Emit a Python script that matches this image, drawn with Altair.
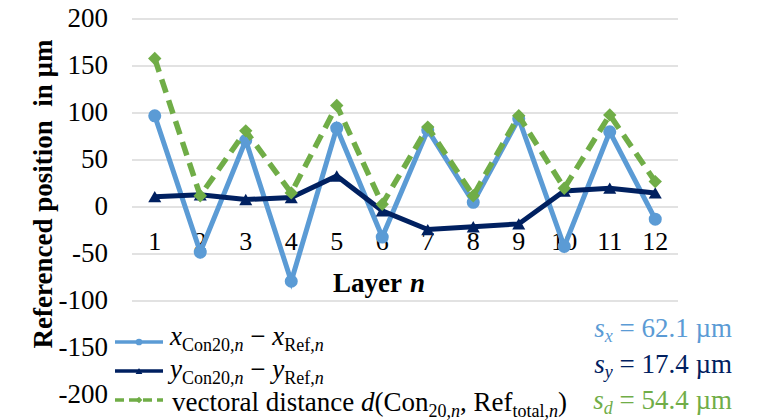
import altair as alt
import pandas as pd

# ---------------- data ----------------
layer_n = list(range(1, 13))
x_diff = [97, -48, 71, -79, 84, -32, 82, 5, 94, -42, 80, -13]
y_diff = [11, 13, 8, 10, 33, -4, -24, -21, -18, 17, 20, 15]
d_dist = [158, 12, 81, 15, 108, 3, 85, 12, 97, 20, 98, 27]
y_ticks = [-200, -150, -100, -50, 0, 50, 100, 150, 200]
grid_vals = [-100, -50, 0, 50, 100, 150, 200]
s_x, s_y, s_d = "62.1", "17.4", "54.4"

BLUE = "#5B9BD5"
NAVY = "#002060"
GREEN = "#70AD47"
SERIF = "Liberation Serif"

W, H = 546, 376
LEFT, TOP = 132, 19

df = pd.DataFrame({"n": layer_n, "x": x_diff, "y": y_diff, "d": d_dist})
xs = alt.Scale(domain=[0.5, 12.5])
ys = alt.Scale(domain=[-200, 200])

# ---------------- text metrics (Times metrics) ----------------
REG = {' ': 250, '(': 333, ')': 333, ',': 250, '.': 250, '-': 333, '=': 564, '\u2212': 564,
       'C': 667, 'R': 667, 'L': 611, 'a': 444, 'c': 444, 'd': 500, 'e': 444, 'f': 333,
       'i': 278, 'l': 278, 'm': 778, 'n': 500, 'o': 500, 'r': 333, 's': 389, 't': 278,
       'v': 500, 'y': 500, '\u00b5': 500}
ITA = {'x': 444, 'y': 444, 'n': 500, 'd': 500, 's': 389}


def tw(text, size, italic):
    tot = 0
    for ch in text:
        if italic and ch in ITA:
            tot += ITA[ch]
        else:
            tot += REG.get(ch, 500)
    return tot * size / 1000.0


rows = []


def place(pieces, x0, base_y, color, right=None):
    widths = [tw(t, s, it) for (t, s, it, dy) in pieces]
    if right is not None:
        x0 = right - sum(widths)
    x = x0
    for (t, s, it, dy), w in zip(pieces, widths):
        stripped = t.strip(" ")
        lead = len(t) - len(t.lstrip(" "))
        if stripped:
            rows.append({"px": x + lead * 0.25 * s - LEFT, "py": base_y + dy - TOP,
                         "text": stripped, "fs": s, "col": color, "it": it})
        x += w


M, S, SUB = 27, 18, 6
place([("x", M, True, 0), ("Con20,", S, False, SUB), ("n", S, True, SUB), (" \u2212 ", M, False, 0),
       ("x", M, True, 0), ("Ref,", S, False, SUB), ("n", S, True, SUB)], 170, 345, "#000")
place([("y", M, True, 0), ("Con20,", S, False, SUB), ("n", S, True, SUB), (" \u2212 ", M, False, 0),
       ("y", M, True, 0), ("Ref,", S, False, SUB), ("n", S, True, SUB)], 170, 378, "#000")
place([("vectoral distance ", M, False, 0), ("d", M, True, 0), ("(Con", M, False, 0),
       ("20,", S, False, SUB), ("n", S, True, SUB), (", Ref", M, False, 0),
       ("total,", S, False, SUB), ("n", S, True, SUB), (")", M, False, 0)], 172, 411, "#000")
place([("s", M, True, 0), ("x", S, True, 5), (" = " + s_x + " \u00b5m", M, False, 0)], 0, 337, BLUE, right=730)
place([("s", M, True, 0), ("y", S, True, 5), (" = " + s_y + " \u00b5m", M, False, 0)], 0, 373, NAVY, right=730)
place([("s", M, True, 0), ("d", S, True, 5), (" = " + s_d + " \u00b5m", M, False, 0)], 0, 409, GREEN, right=730)

tdf = pd.DataFrame(rows)

# ---------------- layers ----------------
YAXIS = alt.Axis(labels=False, ticks=False, domain=False, grid=False, title=None)
X = alt.X("n:Q", scale=xs, axis=None)


def Y(f):
    return alt.Y(f, scale=ys, axis=YAXIS)


grid = alt.Chart(pd.DataFrame({"g": grid_vals})).mark_rule(color="#D9D9D9", strokeWidth=1.5).encode(
    y=Y("g:Q"), x=alt.value(0), x2=alt.value(W))

# y tick labels (as text, serif, hyphen minus)
ylabels = alt.Chart(pd.DataFrame({"v": y_ticks, "lab": [str(v) for v in y_ticks]})).mark_text(
    font=SERIF, fontSize=27, align="right", baseline="middle", color="#000").encode(
    x=alt.value(108 - LEFT), y=Y("v:Q"), text="lab:N")

xlabels = alt.Chart(df).mark_text(font=SERIF, fontSize=26, baseline="alphabetic", color="#000").encode(
    x=X, y=alt.datum(-46), text="n:N")

blue_line = alt.Chart(df).mark_line(color=BLUE, strokeWidth=5).encode(x=X, y=Y("x:Q"))
blue_pts = alt.Chart(df).mark_point(shape="circle", filled=True, size=170, color=BLUE, opacity=1).encode(
    x=X, y=Y("x:Q"))
navy_line = alt.Chart(df).mark_line(color=NAVY, strokeWidth=5).encode(x=X, y=Y("y:Q"))
navy_pts = alt.Chart(df).mark_point(shape="triangle-up", filled=True, size=170, color=NAVY, opacity=1).encode(
    x=X, y=Y("y:Q"))
green_line = alt.Chart(df).mark_line(color=GREEN, strokeWidth=5.5, strokeDash=[14, 8]).encode(
    x=X, y=Y("d:Q"))
green_pts = alt.Chart(df).mark_point(shape="diamond", filled=True, size=180, color=GREEN, opacity=1).encode(
    x=X, y=Y("d:Q"))

# axis titles
ytitle = alt.Chart(pd.DataFrame({"t": ["Referenced position\u00a0 in \u00b5m"]})).mark_text(
    font=SERIF, fontSize=27, fontWeight="bold", angle=270, align="center", baseline="middle",
    color="#000").encode(x=alt.value(44 - LEFT), y=alt.value(194 - TOP), text="t:N")
xt1 = alt.Chart(pd.DataFrame({"t": ["Layer"]})).mark_text(
    font=SERIF, fontSize=27, fontWeight="bold", align="left", baseline="alphabetic", color="#000").encode(
    x=alt.value(333 - LEFT), y=alt.value(292 - TOP), text="t:N")
xt2 = alt.Chart(pd.DataFrame({"t": ["n"]})).mark_text(
    font=SERIF, fontSize=27, fontWeight="bold", fontStyle="italic", align="left", baseline="alphabetic",
    color="#000").encode(x=alt.value(410 - LEFT), y=alt.value(292 - TOP), text="t:N")

# legend symbols
LX1, LX2, LXC = 115 - LEFT, 163 - LEFT, 139 - LEFT
dummy = pd.DataFrame({"a": [0]})
leg = []
for yy, col, dash, shape, sz in [(342, BLUE, None, "circle", 45), (371, NAVY, None, "triangle-up", 45),
                                 (400, GREEN, [9, 5], "diamond", 45)]:
    kw = dict(color=col, strokeWidth=3.5)
    if dash:
        kw["strokeDash"] = dash
    leg.append(alt.Chart(dummy).mark_rule(**kw).encode(
        x=alt.value(LX1), x2=alt.value(LX2), y=alt.value(yy - TOP)))
    leg.append(alt.Chart(dummy).mark_point(shape=shape, filled=True, size=sz, color=col, opacity=1).encode(
        x=alt.value(LXC), y=alt.value(yy - TOP)))

# rich text pieces
txt_layers = []
for it in [False, True]:
    sub = tdf[tdf["it"] == it]
    if len(sub) == 0:
        continue
    txt_layers.append(alt.Chart(sub).mark_text(
        font=SERIF, align="left", baseline="alphabetic",
        fontStyle="italic" if it else "normal").encode(
        x=alt.X("px:Q", scale=None, axis=None),
        y=alt.Y("py:Q", scale=None, axis=None),
        text="text:N",
        size=alt.Size("fs:Q", scale=None, legend=None),
        color=alt.Color("col:N", scale=None, legend=None)))

chart = alt.layer(
    grid, ylabels, xlabels, blue_line, blue_pts, navy_line, navy_pts, green_line, green_pts,
    ytitle, xt1, xt2, *leg, *txt_layers
).properties(
    width=W, height=H, autosize="none",
    padding={"left": LEFT, "top": TOP, "right": 759 - LEFT - W, "bottom": 420 - TOP - H},
    background="white"
).configure_view(stroke=None).configure_text(font=SERIF)

chart.save("out.html", embed_options={"renderer": "svg", "actions": False})
